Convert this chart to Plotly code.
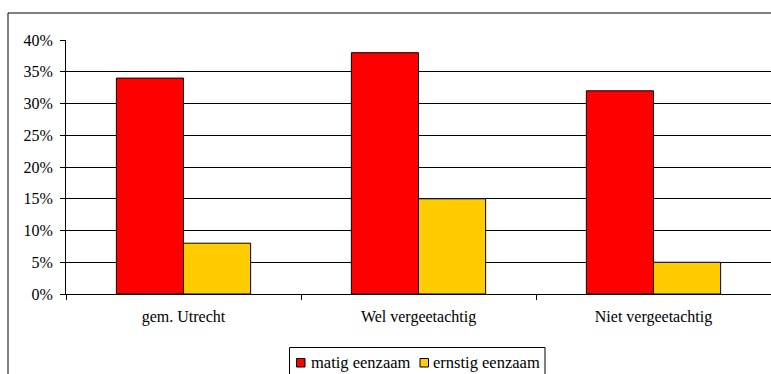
import plotly.graph_objects as go

categories = ["gem. Utrecht", "Wel vergeetachtig", "Niet vergeetachtig"]
matig = [0.34, 0.38, 0.32]
ernstig = [0.08, 0.15, 0.05]
series_names = ["matig eenzaam", "ernstig eenzaam"]
colors = ["#FF0000", "#FFCC00"]

W, H = 771, 374
L, R, T, B = 66, 0, 40, 80
pw, ph = W - L - R, H - T - B


def px(x):
    return (x - L) / pw


def py(y):
    return (H - B - y) / ph


fig = go.Figure()
for name, vals, col in zip(series_names, [matig, ernstig], colors):
    fig.add_trace(go.Bar(x=categories, y=vals, name=name, showlegend=False,
                         marker=dict(color=col, line=dict(color="black", width=1))))

FAM = "Liberation Serif"
font = dict(family=FAM, size=16, color="black")
legfont = dict(family=FAM, size=16.5, color="black")

shapes = [dict(type="rect", xref="paper", yref="paper",
               x0=px(8), x1=px(800), y0=py(400), y1=py(13),
               line=dict(color="black", width=1), fillcolor="rgba(0,0,0,0)", layer="below"),
          dict(type="rect", xref="paper", yref="paper",
               x0=px(289.5), x1=px(545), y0=py(390), y1=py(347.5),
               line=dict(color="black", width=1), fillcolor="white", layer="above")]
annotations = []
leg_items = [(296.5, 309), (420, 431)]
for (sx, tx), name, col in zip(leg_items, series_names, colors):
    shapes.append(dict(type="rect", xref="paper", yref="paper",
                       x0=px(sx), x1=px(sx + 8.5), y0=py(367), y1=py(358.5),
                       line=dict(color="black", width=1), fillcolor=col, layer="above"))
    annotations.append(dict(xref="paper", yref="paper", x=px(tx), y=py(362.5),
                            xanchor="left", yanchor="middle", text=name, showarrow=False,
                            font=legfont))

fig.update_layout(
    width=W, height=H,
    margin=dict(l=L, r=R, t=T, b=B, pad=0),
    paper_bgcolor="white", plot_bgcolor="white",
    barmode="group", bargap=0.4286, bargroupgap=0,
    font=font,
    xaxis=dict(showline=True, linecolor="black", linewidth=1, ticks="outside", ticklen=5,
               tickcolor="black", tickson="boundaries", showgrid=False, tickfont=font,
               range=[-0.5, 2.5], ticklabelstandoff=8),
    yaxis=dict(range=[0, 0.4], dtick=0.05, tickformat=".0%", showline=True, linecolor="black",
               linewidth=1, ticks="outside", ticklen=5, tickcolor="black", showgrid=True,
               gridcolor="black", gridwidth=1, zeroline=False, tickfont=font,
               ticklabelstandoff=4),
    shapes=shapes,
    annotations=annotations,
)

fig.write_html("out.html")
